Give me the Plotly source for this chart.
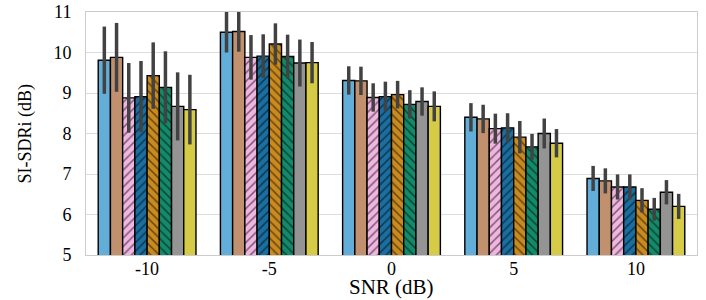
import plotly.graph_objects as go

snr = ["-10", "-5", "0", "5", "10"]
series_names = ["M1", "M2", "M3", "M4", "M5", "M6", "M7", "M8"]
means = [
    [9.81, 10.50, 9.31, 8.40, 6.89],
    [9.88, 10.52, 9.30, 8.36, 6.83],
    [8.88, 9.88, 8.89, 8.12, 6.68],
    [8.91, 9.91, 8.91, 8.14, 6.68],
    [9.43, 10.21, 8.96, 7.91, 6.35],
    [9.14, 9.90, 8.72, 7.67, 6.13],
    [8.67, 9.74, 8.79, 8.00, 6.55],
    [8.59, 9.75, 8.67, 7.76, 6.20],
]
errors = [
    [0.83, 0.50, 0.35, 0.35, 0.31],
    [0.85, 0.50, 0.35, 0.35, 0.31],
    [0.86, 0.55, 0.35, 0.37, 0.31],
    [0.88, 0.54, 0.37, 0.36, 0.31],
    [0.82, 0.51, 0.34, 0.40, 0.30],
    [0.89, 0.54, 0.35, 0.32, 0.28],
    [0.84, 0.58, 0.35, 0.37, 0.30],
    [0.86, 0.51, 0.37, 0.35, 0.31],
]
y_ticks = [5, 6, 7, 8, 9, 10, 11]
colors = ["#62aed8", "#c0906f", "#f0b5e0", "#1a6ea0", "#c98a20", "#138a6a", "#949494", "#d6cb47"]
hatches = ["", "", "/", "/", "\\", "\\", "", ""]

fig = go.Figure()
for name, m, e, c, h in zip(series_names, means, errors, colors, hatches):
    marker = dict(color=c, line=dict(color="black", width=1.4))
    if h:
        marker["pattern"] = dict(shape=h, fgcolor="black", size=6, solidity=0.25, fillmode="overlay")
    fig.add_trace(go.Bar(
        x=snr, y=m, name=name, marker=marker,
        error_y=dict(type="data", array=e, visible=True, color="#424242", thickness=3.5, width=0),
    ))

font = "Liberation Serif, Times New Roman, serif"
fig.update_layout(
    width=706, height=300,
    margin=dict(l=86, r=9, t=12, b=45),
    paper_bgcolor="white", plot_bgcolor="white",
    barmode="group", bargap=0.2, bargroupgap=0,
    showlegend=False,
    font=dict(family=font, color="black"),
    xaxis=dict(type="category", showgrid=False, showline=True, linecolor="#cccccc", mirror=True,
               automargin=False, tickfont=dict(size=18, family=font), ticks="",
               ticklabelstandoff=-3),
    yaxis=dict(range=[5, 11], tickvals=y_ticks, showgrid=True, gridcolor="#dddddd", gridwidth=1,
               showline=True, linecolor="#cccccc", mirror=True, zeroline=False,
               automargin=False, ticklabelstandoff=10, ticklabeloverflow="allow",
               tickfont=dict(size=18, family=font), ticks=""),
    annotations=[
        dict(text="SNR (dB)", x=0.5, y=0, xref="paper", yref="paper", xanchor="center",
             yanchor="middle", yshift=-32, showarrow=False, font=dict(size=21, family=font)),
        dict(text="SI-SDRi (dB)", x=0, y=0.5, xref="paper", yref="paper", xanchor="center",
             yanchor="middle", xshift=-61, textangle=-90, showarrow=False,
             font=dict(size=18, family=font)),
    ],
)
fig.write_html("out.html", config={"displayModeBar": False},
               post_script="document.body.style.margin='0';")
